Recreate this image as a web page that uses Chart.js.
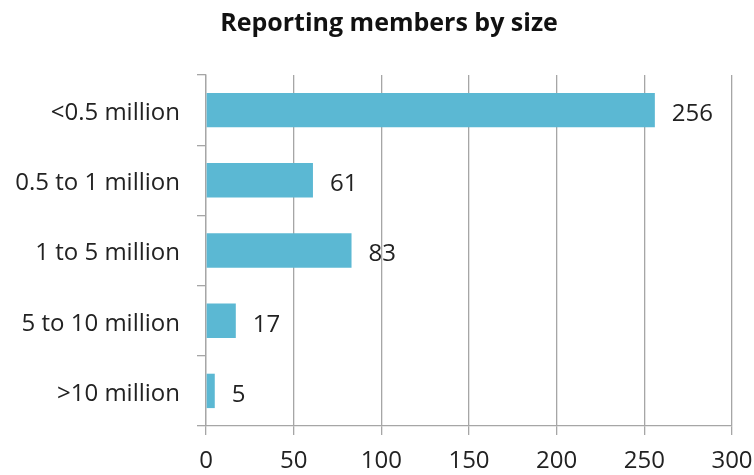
<!DOCTYPE html>
<html>
<head>
<meta charset="utf-8">
<script src="https://cdn.jsdelivr.net/npm/chart.js@4/dist/chart.umd.min.js"></script>
<style>
  html, body { margin: 0; padding: 0; background: #ffffff; }
  #wrap { width: 754px; height: 475px; }
</style>
</head>
<body>
<div id="wrap"><canvas id="myChart" width="754" height="475"></canvas></div>
<script>
// values
const categories = ['<0.5 million', '0.5 to 1 million', '1 to 5 million', '5 to 10 million', '>10 million'];
const members = [256, 61, 83, 17, 5];
const xTicks = [0, 50, 100, 150, 200, 250, 300];

const gridGrey = '#a6a6a6';
const fontFamily = '"Open Sans", Lato, sans-serif';

// draws the value next to the end of each bar
const valueLabels = {
    id: 'valueLabels',
    afterDatasetsDraw(chart) {
        const ctx = chart.ctx;
        const meta = chart.getDatasetMeta(0);
        ctx.save();
        ctx.fillStyle = '#222222';
        ctx.font = '24px ' + fontFamily;
        ctx.textAlign = 'left';
        ctx.textBaseline = 'middle';
        meta.data.forEach((bar, i) => {
            ctx.fillText(String(members[i]), bar.x + 17, bar.y + 4);
        });
        ctx.restore();
    }
};

// the title in the reference sits a bit right of the canvas centre
const titleShift = {
    id: 'titleShift',
    beforeDraw(chart) {
        if (chart.titleBlock) {
            chart.titleBlock.left = 24;
        }
    }
};

function plotChart() {
    const ctx = document.getElementById('myChart').getContext('2d');
    new Chart(ctx, {
        type: 'bar',
        data: {
            labels: categories,
            datasets: [{
                data: members,
                backgroundColor: '#5bb8d3',
                borderWidth: 0,
                categoryPercentage: 1.0,
                barPercentage: 0.49
            }]
        },
        options: {
            indexAxis: 'y',
            responsive: false,
            animation: false,
            layout: {
                padding: { left: 0, right: 0, top: 0, bottom: 0 }
            },
            scales: {
                x: {
                    min: 0,
                    max: 300,
                    afterBuildTicks: axis => {
                        axis.ticks = xTicks.map(v => ({ value: v }));
                    },
                    afterFit: axis => {
                        axis.height = 49;
                        axis.paddingRight = 22;
                    },
                    grid: {
                        color: gridGrey,
                        lineWidth: 1.3,
                        tickLength: 9,
                        drawTicks: true
                    },
                    border: { color: gridGrey, width: 1.3 },
                    ticks: {
                        color: '#222222',
                        padding: 12,
                        maxRotation: 0,
                        font: { family: fontFamily, size: 24 }
                    }
                },
                y: {
                    afterFit: axis => {
                        axis.width = 206;
                    },
                    grid: {
                        offset: true,
                        drawOnChartArea: false,
                        color: gridGrey,
                        lineWidth: 1.3,
                        tickLength: 9
                    },
                    border: { color: gridGrey, width: 1.3 },
                    ticks: {
                        color: '#222222',
                        padding: 17,
                        labelOffset: 3,
                        font: { family: fontFamily, size: 24 }
                    }
                }
            },
            plugins: {
                legend: { display: false },
                tooltip: { enabled: false },
                title: {
                    display: true,
                    text: 'Reporting members by size',
                    color: '#111111',
                    font: { family: fontFamily, size: 25, weight: 'bold' },
                    padding: { top: 9, bottom: 36 }
                }
            }
        },
        plugins: [valueLabels, titleShift]
    });
}

plotChart();
</script>
</body>
</html>
